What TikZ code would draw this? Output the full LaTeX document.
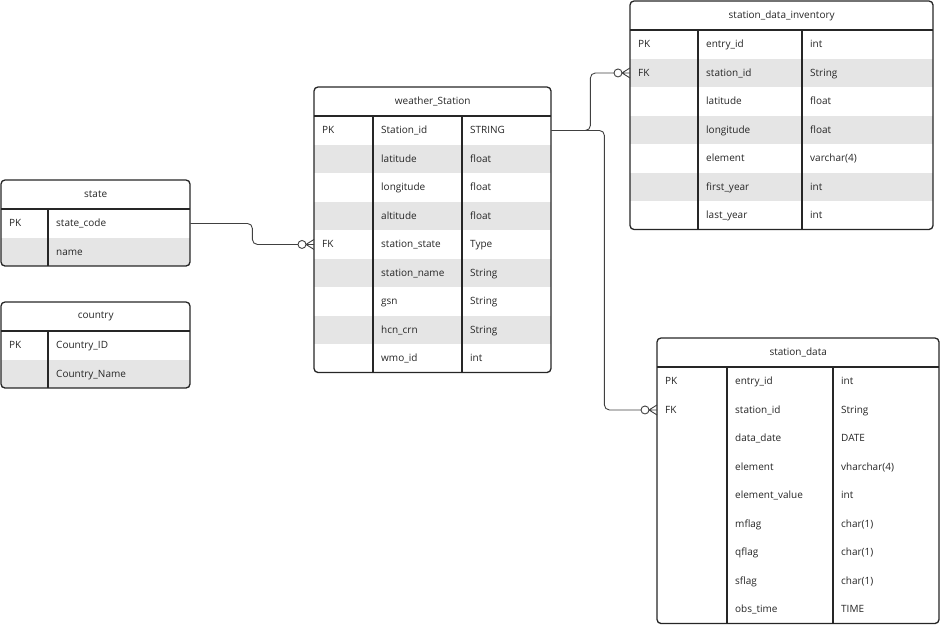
\documentclass[tikz,border=0pt]{standalone}
\usepackage{fontspec}
\setmainfont{Open Sans}
\usetikzlibrary{calc}
\tikzset{
  row/.style={draw=none,inner sep=0,minimum height=28.5pt,anchor=north west},
  g/.style={fill=black!10},
  w/.style={fill=white},
  conn/.style={draw=black!75,line width=0.9pt},
  frame/.style={draw=black!85,line width=1.3pt},
  txt/.style={anchor=west,inner sep=0,text height=7.5pt,text depth=2.5pt,font=\fontsize{10}{12}\selectfont,text=black!85},
}
% #1 id #2 x #3 y #4 w #5 c1 #6 c2 #7 title #8 rows #9 nrows
\newcommand\ertab[9]{%
  \node[row,minimum width=#4pt,minimum height=29pt,font=\fontsize{10}{12}\selectfont,text=black!85] (#1) at (#2,#3) {#7};
  \foreach \k/\n/\t/\g [count=\i] in {#8} {
    \node[row,\g,minimum width=#4pt] (#1-\i) at (#2,{#3+29+(\i-1)*28.5}) {};
    \path (#1-\i.west) ++(8,1) node[txt]{\k};
    \path (#1-\i.west) ++(#5+8,1) node[txt]{\n};
    \path (#1-\i.west) ++(#6+8,1) node[txt]{\t};
  }
  \draw[frame] (#2,{#3+29}) -- ++(#4,0);
  \draw[frame] ({#2+#5},{#3+29}) -- ++(0,{#9*28.5});
  \draw[frame] ({#2+#6},{#3+29}) -- ++(0,{#9*28.5});
  \draw[frame,rounded corners=4pt] (#2,#3) rectangle ++(#4,{29+#9*28.5});
}
\newcommand\crow[1]{%
  \draw[conn] ($(#1)+(-8,0)$) -- ($(#1)+(0,-5)$) ($(#1)+(-8,0)$) -- (#1) ($(#1)+(-8,0)$) -- ($(#1)+(0,5)$);
  \draw[conn,fill=white] ($(#1)+(-12,0)$) circle[radius=4pt];
}
\begin{document}
\begin{tikzpicture}[x=1pt,y=-1pt]
\useasboundingbox (0,0) rectangle (940,624);
\ertab{st}{1}{180}{189}{47}{1000}{state}{PK/state\_code//w,/name//g}{2}
\ertab{co}{1}{302}{189}{47}{1000}{country}{PK/Country\_ID//w,/Country\_Name//g}{2}
\ertab{ws}{314}{87}{237}{59}{148}{weather\_Station}{PK/Station\_id/STRING/w,/latitude/float/g,/longitude/float/w,/altitude/float/g,FK/station\_state/Type/w,/station\_name/String/g,/gsn/String/w,/hcn\_crn/String/g,/wmo\_id/int/w}{9}
\ertab{inv}{630}{1}{303}{68}{172}{station\_data\_inventory}{PK/entry\_id/int/w,FK/station\_id/String/g,/latitude/float/w,/longitude/float/g,/element/varchar(4)/w,/first\_year/int/g,/last\_year/int/w}{7}
\ertab{sd}{657}{338}{282}{70}{176}{station\_data}{PK/entry\_id/int/w,FK/station\_id/String/w,/data\_date/DATE/w,/element/vharchar(4)/w,/element\_value/int/w,/mflag/char(1)/w,/qflag/char(1)/w,/sflag/char(1)/w,/obs\_time/TIME/w}{9}
\draw[conn,rounded corners=5pt] (st-1.east) -- ++(62,0) |- ([xshift=-16pt]ws-5.west);
\crow{ws-5.west}
\draw[conn,rounded corners=5pt] (ws-1.east) -- ++(39,0) |- ([xshift=-16pt]inv-2.west);
\crow{inv-2.west}
\draw[conn,rounded corners=5pt] (ws-1.east) -- ++(53,0) |- ([xshift=-16pt]sd-2.west);
\crow{sd-2.west}
\end{tikzpicture}
\end{document}
